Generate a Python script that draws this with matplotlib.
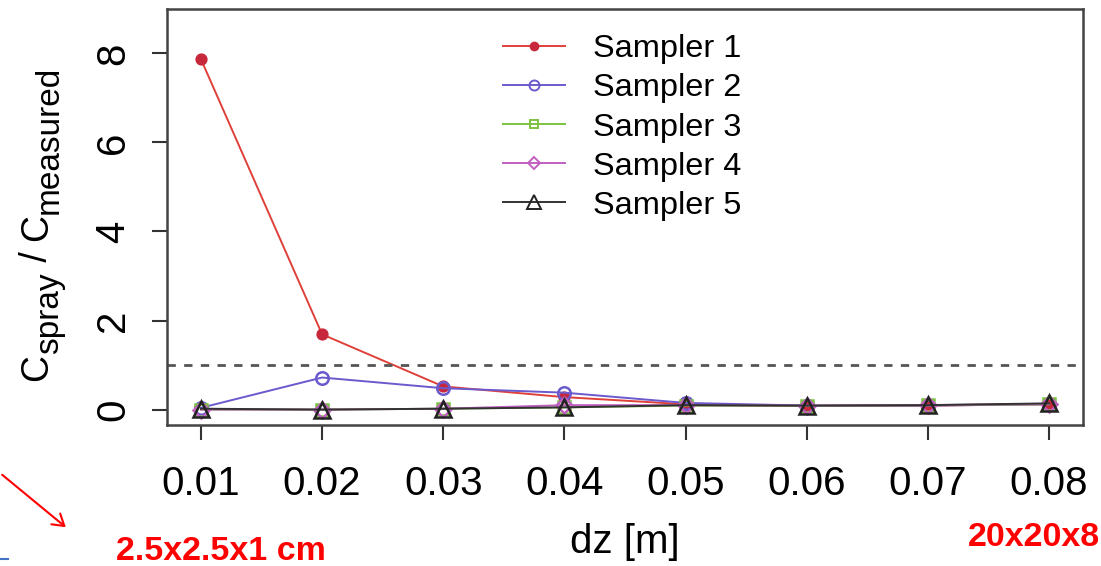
import matplotlib
matplotlib.use("Agg")
import matplotlib.pyplot as plt
from matplotlib.patches import FancyArrowPatch
from matplotlib.lines import Line2D

plt.rcParams['font.family'] = ['Liberation Sans', 'DejaVu Sans']

# data
dz = [0.01, 0.02, 0.03, 0.04, 0.05, 0.06, 0.07, 0.08]
sampler1 = [7.87, 1.69, 0.52, 0.28, 0.12, 0.08, 0.09, 0.12]
sampler2 = [0.04, 0.72, 0.48, 0.38, 0.15, 0.09, 0.09, 0.12]
sampler3 = [0.0, 0.0, 0.02, 0.05, 0.09, 0.08, 0.10, 0.12]
sampler4 = [0.0, 0.0, 0.02, 0.10, 0.10, 0.09, 0.10, 0.13]
sampler5 = [0.02, 0.0, 0.02, 0.05, 0.10, 0.09, 0.10, 0.14]
labels = ['Sampler 1', 'Sampler 2', 'Sampler 3', 'Sampler 4', 'Sampler 5']
xtick_labels = ['0.01', '0.02', '0.03', '0.04', '0.05', '0.06', '0.07', '0.08']
yticks = [0, 2, 4, 6, 8]
ref_level = 1.0

W, H = 1101, 566
fig = plt.figure(figsize=(W / 100, H / 100), dpi=100)
ax = fig.add_axes([167 / W, 1 - 425 / H, (1083 - 167) / W, (425 - 9) / H])

series = [sampler1, sampler2, sampler3, sampler4, sampler5]
colors = ['#e0403a', '#6a5acd', '#7cc242', '#c060c0', '#333333']
markers = ['o', 'o', 's', 'D', '^']
msizes = [7, 9, 8, 8, 12]
faces = ['#c8283c', 'none', 'none', 'none', 'none']
mecs = ['#c8283c', '#6a5acd', '#7cc242', '#c060c0', '#222222']

handles = []
for ys, c, m, ms, fc, mec, lab in zip(series, colors, markers, msizes, faces, mecs, labels):
    ax.plot(dz, ys, color=c, lw=1.4, marker=m, ms=ms, mfc=fc, mec=mec, mew=1.8)
    handles.append(Line2D([], [], color=c, lw=1.4, marker=m, ms=ms * 0.8,
                          mfc=fc, mec=mec, mew=1.4, label=lab))

ax.axhline(ref_level, color='#555555', lw=2, ls=(0, (3, 3)))

ax.set_xlim(0.0072, 0.0828)
ax.set_ylim(-0.346, 8.996)
ax.set_xticks(dz)
ax.set_xticklabels(xtick_labels)
ax.set_yticks(yticks)
ax.set_yticklabels([str(v) for v in yticks], rotation=90, va='center')
ax.tick_params(axis='both', labelsize=29, length=11, width=1.5, color='#333333')
ax.tick_params(axis='x', pad=18)
ax.tick_params(axis='y', pad=14)
for sp in ax.spines.values():
    sp.set_linewidth(1.8)
    sp.set_color('#444444')

ax.set_xlabel('dz [m]', fontsize=29, labelpad=14)

ax.legend(handles=handles, loc='upper left', bbox_to_anchor=(0.367, 0.939),
          frameon=False, fontsize=23.4, handlelength=1.9, handletextpad=0.86,
          labelspacing=0.28, borderpad=0, borderaxespad=0)

# y label: C_spray / C_measured, built piece by piece (subscripts ~0.85 size)
renderer = fig.canvas.get_renderer()
ylab_parts = [('C', 27, 0), ('spray', 24, 11), (' / ', 27, 0), ('C', 27, 0), ('measured', 24, 11)]
x_base = 47
y_pos = H - 381
for txt, size, drop in ylab_parts:
    t = fig.text((x_base + drop) / W, y_pos / H, txt, fontsize=size, rotation=90,
                 rotation_mode='anchor', ha='left', va='baseline')
    y_pos += t.get_window_extent(renderer).height

# annotations outside the chart
fig.text(221 / W, 1 - 552 / H, '2.5x2.5x1 cm', color='red', fontsize=24.5,
         fontweight='bold', ha='center', va='center')
fig.text(968 / W, 1 - 538 / H, '20x20x8', color='red', fontsize=24.5,
         fontweight='bold', ha='left', va='center')
arrow = FancyArrowPatch((0 / W, 1 - 473 / H), (68 / W, 1 - 529 / H),
                        transform=fig.transFigure, arrowstyle='->,head_length=8,head_width=5',
                        color='red', lw=1.5)
fig.add_artist(arrow)
fig.add_artist(Line2D([0, 8 / W], [1 - 559 / H, 1 - 559 / H],
                      transform=fig.transFigure, color='#4472c4', lw=1.5))

fig.savefig('out.png', dpi=100)
